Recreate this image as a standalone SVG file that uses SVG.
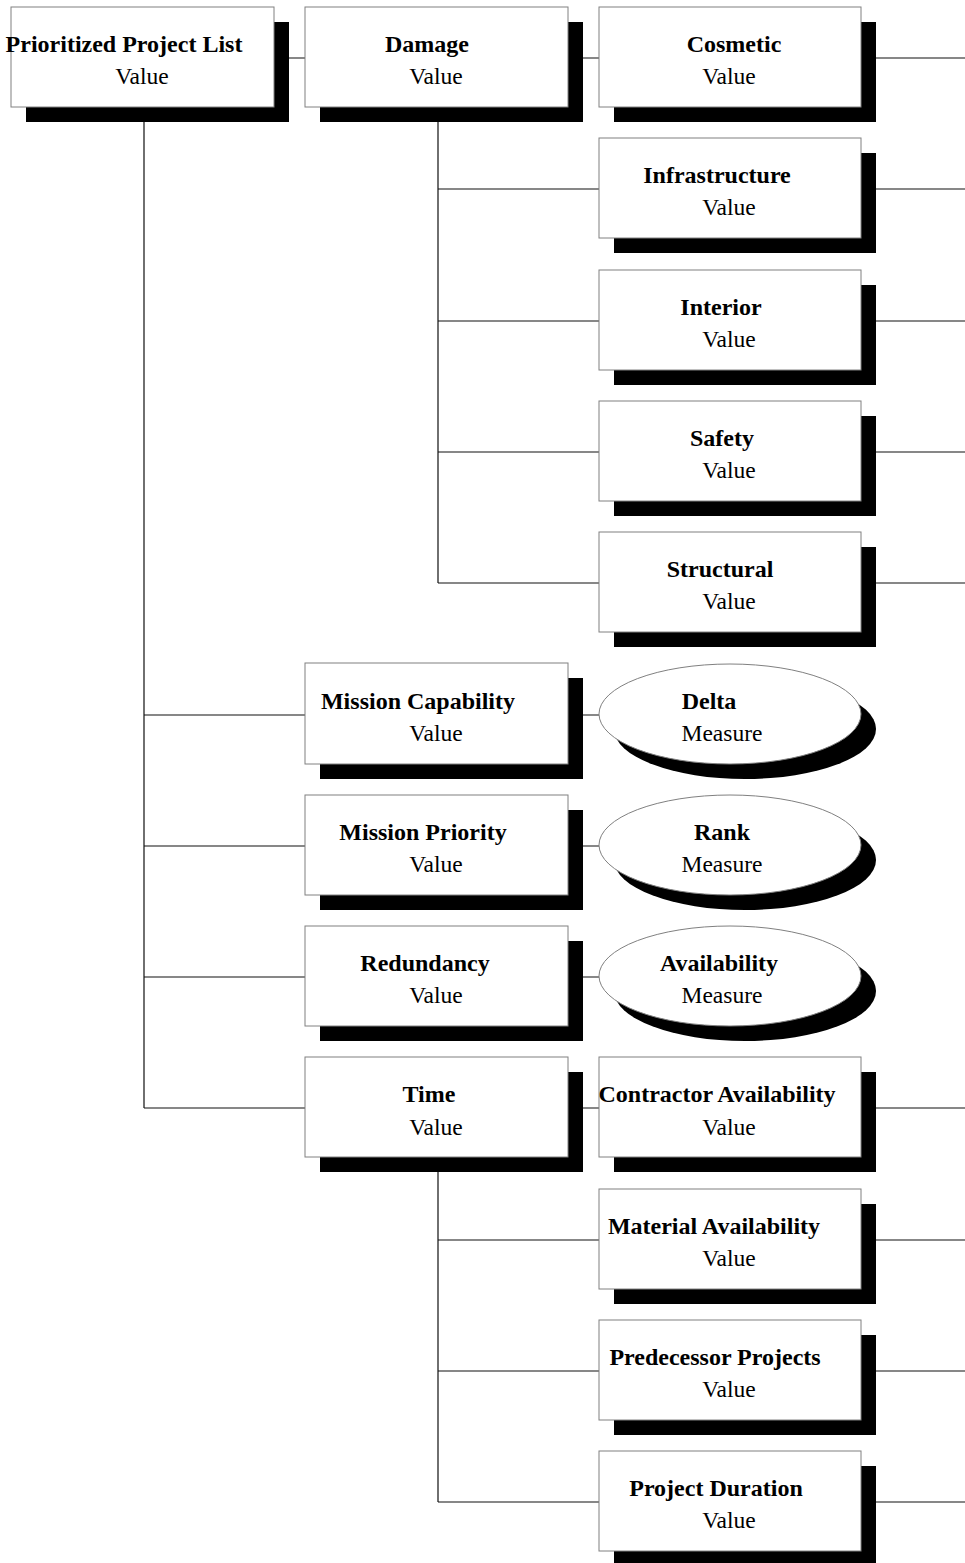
<svg xmlns="http://www.w3.org/2000/svg" width="965" height="1563" viewBox="0 0 965 1563">
<style>
.bx{fill:#fff;stroke:#808080;stroke-width:1}
.sh{fill:#000}
.t{font-family:"Liberation Serif","Times New Roman",serif;font-weight:bold;font-size:24px;text-anchor:middle;fill:#000}
.v{font-family:"Liberation Serif","Times New Roman",serif;font-size:23.5px;text-anchor:middle;fill:#000}
.c{stroke:#111;stroke-width:1.2;fill:none}
</style>
<rect width="965" height="1563" fill="#fff"/>
<g id="connectors">
<path class="c" d="M289 58H305M583 58H599M876 58H965"/>
<path class="c" d="M144 122V1108M144 715H305M144 846H305M144 977H305M144 1108H305"/>
<path class="c" d="M438 122V583M438 189H599M438 321H599M438 452H599M438 583H599"/>
<path class="c" d="M876 189H965M876 321H965M876 452H965M876 583H965"/>
<path class="c" d="M583 715H599M583 846H599M583 977H599M583 1108H599"/>
<path class="c" d="M438 1172V1502M438 1240H599M438 1371H599M438 1502H599"/>
<path class="c" d="M876 1108H965M876 1240H965M876 1371H965M876 1502H965"/>
</g>
<g id="n-prioritized"><rect class="sh" x="26" y="22" width="263" height="100"/><rect class="bx" x="11" y="7" width="263" height="100"/><text class="t" x="124" y="52">Prioritized Project List</text><text class="v" x="142" y="84">Value</text></g>
<g id="n-damage"><rect class="sh" x="320" y="22" width="263" height="100"/><rect class="bx" x="305" y="7" width="263" height="100"/><text class="t" x="427" y="52">Damage</text><text class="v" x="436" y="84">Value</text></g>
<g id="n-cosmetic"><rect class="sh" x="614" y="22" width="262" height="100"/><rect class="bx" x="599" y="7" width="262" height="100"/><text class="t" x="734" y="52">Cosmetic</text><text class="v" x="729" y="84">Value</text></g>
<g id="n-infrastructure"><rect class="sh" x="614" y="153" width="262" height="100"/><rect class="bx" x="599" y="138" width="262" height="100"/><text class="t" x="717" y="183">Infrastructure</text><text class="v" x="729" y="215">Value</text></g>
<g id="n-interior"><rect class="sh" x="614" y="285" width="262" height="100"/><rect class="bx" x="599" y="270" width="262" height="100"/><text class="t" x="721" y="315">Interior</text><text class="v" x="729" y="347">Value</text></g>
<g id="n-safety"><rect class="sh" x="614" y="416" width="262" height="100"/><rect class="bx" x="599" y="401" width="262" height="100"/><text class="t" x="722" y="446">Safety</text><text class="v" x="729" y="478">Value</text></g>
<g id="n-structural"><rect class="sh" x="614" y="547" width="262" height="100"/><rect class="bx" x="599" y="532" width="262" height="100"/><text class="t" x="720" y="577">Structural</text><text class="v" x="729" y="609">Value</text></g>
<g id="n-mission-capability"><rect class="sh" x="320" y="678" width="263" height="101"/><rect class="bx" x="305" y="663" width="263" height="101"/><text class="t" x="418" y="709">Mission Capability</text><text class="v" x="436" y="741">Value</text></g>
<g id="n-delta"><ellipse class="sh" cx="745" cy="729" rx="131" ry="50"/><ellipse class="bx" cx="730" cy="714" rx="131" ry="50"/><text class="t" x="709" y="709">Delta</text><text class="v" x="722" y="741">Measure</text></g>
<g id="n-mission-priority"><rect class="sh" x="320" y="810" width="263" height="100"/><rect class="bx" x="305" y="795" width="263" height="100"/><text class="t" x="423" y="840">Mission Priority</text><text class="v" x="436" y="872">Value</text></g>
<g id="n-rank"><ellipse class="sh" cx="745" cy="860" rx="131" ry="50"/><ellipse class="bx" cx="730" cy="845" rx="131" ry="50"/><text class="t" x="722" y="840">Rank</text><text class="v" x="722" y="872">Measure</text></g>
<g id="n-redundancy"><rect class="sh" x="320" y="941" width="263" height="100"/><rect class="bx" x="305" y="926" width="263" height="100"/><text class="t" x="425" y="971">Redundancy</text><text class="v" x="436" y="1003">Value</text></g>
<g id="n-availability"><ellipse class="sh" cx="745" cy="991" rx="131" ry="50"/><ellipse class="bx" cx="730" cy="976" rx="131" ry="50"/><text class="t" x="719" y="971">Availability</text><text class="v" x="722" y="1003">Measure</text></g>
<g id="n-time"><rect class="sh" x="320" y="1072" width="263" height="100"/><rect class="bx" x="305" y="1057" width="263" height="100"/><text class="t" x="429" y="1102">Time</text><text class="v" x="436" y="1135">Value</text></g>
<g id="n-contractor"><rect class="sh" x="614" y="1072" width="262" height="100"/><rect class="bx" x="599" y="1057" width="262" height="100"/><text class="t" x="717" y="1102">Contractor Availability</text><text class="v" x="729" y="1135">Value</text></g>
<g id="n-material"><rect class="sh" x="614" y="1204" width="262" height="100"/><rect class="bx" x="599" y="1189" width="262" height="100"/><text class="t" x="714" y="1234">Material Availability</text><text class="v" x="729" y="1266">Value</text></g>
<g id="n-predecessor"><rect class="sh" x="614" y="1335" width="262" height="100"/><rect class="bx" x="599" y="1320" width="262" height="100"/><text class="t" x="715" y="1365">Predecessor Projects</text><text class="v" x="729" y="1397">Value</text></g>
<g id="n-duration"><rect class="sh" x="614" y="1466" width="262" height="100"/><rect class="bx" x="599" y="1451" width="262" height="100"/><text class="t" x="716" y="1496">Project Duration</text><text class="v" x="729" y="1528">Value</text></g>
</svg>
